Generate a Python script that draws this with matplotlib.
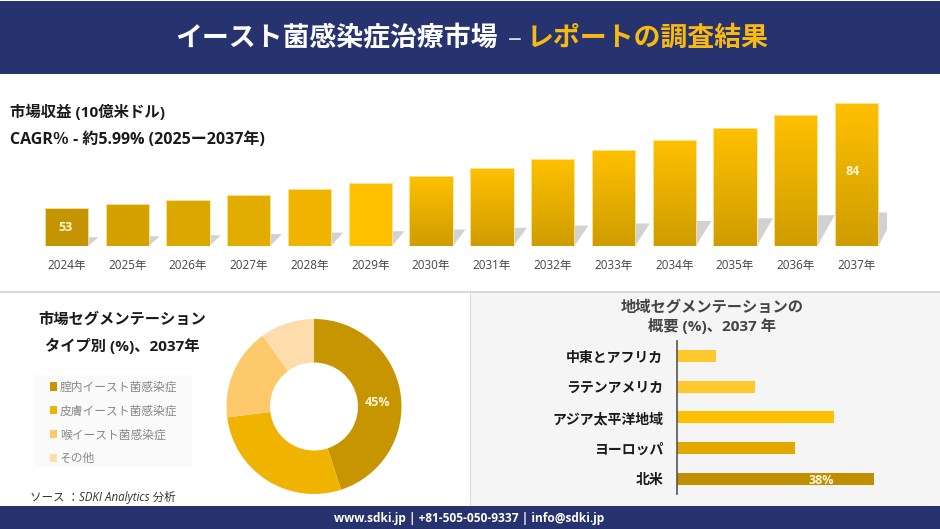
import numpy as np
import matplotlib
matplotlib.use('Agg')
import matplotlib.pyplot as plt
from matplotlib.colors import LinearSegmentedColormap
from matplotlib.patches import Polygon, Rectangle

plt.rcParams['font.family'] = ['Open Sans', 'Noto Sans CJK JP', 'DejaVu Sans']

W, H = 940, 529

years = ['2024年', '2025年', '2026年', '2027年', '2028年', '2029年', '2030年',
         '2031年', '2032年', '2033年', '2034年', '2035年', '2036年', '2037年']
revenue = [53, 54.2, 55.4, 57.0, 58.8, 60.5, 62.6, 64.8, 67.5, 70.2, 73.3, 76.7, 80.6, 84]
bar_labels = ['53', '84']
bar_top_colors = ['#c49500', '#d4a200', '#dca800', '#e2ad00', '#f0b400', '#ffc000', '#ffc000',
                  '#ffc000', '#ffc000', '#ffc000', '#ffc000', '#ffc000', '#ffc000', '#ffc000']
bar_bottom_colors = ['#c49500', '#d4a200', '#dca800', '#e2ad00', '#f0b400', '#ffc000', '#cf9d00',
                     '#cf9d00', '#cf9d00', '#cf9d00', '#cf9d00', '#cf9d00', '#cf9d00', '#cf9d00']

type_names = ['腟内イースト菌感染症', '皮膚イースト菌感染症', '喉イースト菌感染症', 'その他']
type_share = [45, 28, 17, 10]
type_colors = ['#c69500', '#efb300', '#fdc96b', '#ffdcab']

regions = ['北米', 'ヨーロッパ', 'アジア太平洋地域', 'ラテンアメリカ', '中東とアフリカ']
region_share = [38, 22.8, 30.3, 15, 7.5]
region_colors = ['#bf8f00', '#e0a800', '#ffc000', '#ffc92e', '#ffc92e']

NAVY = '#26336e'


def px_axes(fig, left, top, right, bottom, **kwargs):
    # axes placed by pixel box, y counted from the top of the image
    return fig.add_axes([left / W, 1 - bottom / H, (right - left) / W, (bottom - top) / H], **kwargs)


def px_text(fig, x, y, s, **kwargs):
    kwargs.setdefault('va', 'center')
    return fig.text(x / W, 1 - y / H, s, **kwargs)


def draw_revenue(fig):
    ax = px_axes(fig, 36, 100, 887, 246)
    ymin = 41.9
    ax.set_xlim(-0.5, 13.5)
    ax.set_ylim(ymin, 85)
    width = 0.712
    x = np.arange(len(revenue))

    # skewed shadow behind the bars
    for xi, v in zip(x, revenue):
        rise = (v - ymin) * 0.235
        skew = (8 + 0.3 * rise * 3.387) / 60.8
        shadow = Polygon([(xi - width / 2, ymin), (xi + width / 2, ymin),
                          (xi + width / 2 + skew, ymin + rise), (xi - width / 2 + skew, ymin + rise)],
                         closed=True, fc='#d2d2d2', ec='none', zorder=1)
        ax.add_patch(shadow)

    bars = ax.bar(x, revenue, width=width, color='none', edgecolor='#ffe9a8', linewidth=0.6, zorder=3)
    for i, bar in enumerate(bars):
        cmap = LinearSegmentedColormap.from_list('b', [bar_bottom_colors[i], bar_top_colors[i]])
        grad = np.linspace(1, 0, 64).reshape(-1, 1)
        im = ax.imshow(grad, cmap=cmap, vmin=0, vmax=1, aspect='auto', zorder=2,
                       extent=(bar.get_x(), bar.get_x() + width, ymin, revenue[i]))
        im.set_clip_path(bar)
    ax.set_xlim(-0.5, 13.5)
    ax.set_ylim(ymin, 85)

    ax.text(x[0] - 0.01, 47.4, bar_labels[0], color='#fff6d8', fontsize=9, fontweight='bold',
            ha='center', va='center', zorder=4)
    ax.text(x[13] - 0.06, 64, bar_labels[1], color='#fff6d8', fontsize=9, fontweight='bold',
            ha='center', va='center', zorder=4)

    ax.set_xticks(x)
    ax.set_xticklabels(years, fontsize=8.4, color='#444444')
    ax.tick_params(axis='x', length=0, pad=9)
    ax.set_yticks([])
    for s in ax.spines.values():
        s.set_visible(False)
    ax.patch.set_alpha(0)


def draw_donut(fig):
    ax = px_axes(fig, 224, 316.5, 404, 496.5)
    wedges, _ = ax.pie(type_share, colors=type_colors, startangle=90, counterclock=False,
                       radius=87.5 / 90, wedgeprops=dict(width=43.5 / 90, linewidth=0))
    ax.set_xlim(-1, 1)
    ax.set_ylim(-1, 1)
    ax.text(0.71, 0.05, '45%', color='#fff6d8', fontsize=9, fontweight='bold', ha='center', va='center')

    px_text(fig, 122, 319, '市場セグメンテーション', fontsize=11, fontweight='bold', color='#1a1a1a', ha='center')
    px_text(fig, 122, 346, 'タイプ別 (%)、2037年', fontsize=11, fontweight='bold', color='#1a1a1a', ha='center')

    fig.add_artist(Rectangle((34 / W, 1 - 467 / H), 158 / W, 92 / H, transform=fig.transFigure,
                             fc='#fafafa', ec='none', zorder=-1))
    fig.legend(wedges, type_names, loc='upper left', bbox_to_anchor=(50 / W, 1 - 380.5 / H),
               fontsize=8.5, frameon=False, labelspacing=0.92, handlelength=0.6, handleheight=0.7,
               handletextpad=0.25, borderpad=0, borderaxespad=0, labelcolor='#888888')
    px_text(fig, 30, 497, 'ソース ：SDKI Analytics 分析', fontsize=8.3, style='italic', color='#333333')


def draw_regions(fig):
    fig.add_artist(Rectangle((470 / W, 1 - 506 / H), 470 / W, 213 / H, transform=fig.transFigure,
                             fc='#f5f5f5', ec='none', zorder=-2))
    fig.add_artist(Rectangle((0, 1 - 293 / H), 1, 2 / H, transform=fig.transFigure,
                             fc='#d9d9d9', ec='none', zorder=-1))
    fig.add_artist(Rectangle((470 / W, 1 - 506 / H), 1 / W, 213 / H, transform=fig.transFigure,
                             fc='#d9d9d9', ec='none', zorder=-1))

    ax = px_axes(fig, 677, 340.7, 940, 494)
    ax.patch.set_alpha(0)
    y = np.arange(len(regions))
    ax.barh(y, region_share, height=0.39, color=region_colors)
    ax.set_xlim(0, 263 / 5.176)
    ax.set_ylim(-0.5, 4.5)
    ax.set_yticks(y)
    ax.set_yticklabels(regions, fontsize=10, fontweight='bold', color='#1a1a1a')
    ax.tick_params(axis='y', length=0, pad=10)
    ax.set_xticks([])
    for name in ['top', 'right', 'bottom']:
        ax.spines[name].set_visible(False)
    ax.spines['left'].set_color('#555555')
    ax.spines['left'].set_linewidth(1.2)
    ax.text(27.8, -0.06, '38%', color='#fff6d8', fontsize=9, fontweight='bold', ha='center', va='center')

    px_text(fig, 712.5, 307, '地域セグメンテーションの', fontsize=11, fontweight='bold', color='#444444', ha='center')
    px_text(fig, 712.5, 326, '概要 (%)、2037 年', fontsize=11, fontweight='bold', color='#444444', ha='center')


def draw_frame(fig):
    fig.add_artist(Rectangle((0, 1 - 74 / H), 1, 73 / H, transform=fig.transFigure, fc=NAVY, ec='none', zorder=-1))
    fig.add_artist(Rectangle((0, 0), 1, 23 / H, transform=fig.transFigure, fc=NAVY, ec='none', zorder=-1))
    px_text(fig, 175, 39, 'イースト菌感染症治療市場', fontsize=19.4, fontweight='bold', color='white')
    px_text(fig, 508, 39, '–', fontsize=20, color='#d8d8e0')
    px_text(fig, 527, 39, 'レポートの調査結果', fontsize=19.4, fontweight='bold', color='#f7b912')
    px_text(fig, 469, 518.5, 'www.sdki.jp | +81-505-050-9337 | info@sdki.jp', fontsize=8.6,
            fontweight='bold', color='white', ha='center')
    px_text(fig, 10, 112, '市場収益 (10億米ドル)', fontsize=11.1, fontweight='bold', color='#1a1a1a')
    px_text(fig, 10, 140, 'CAGR％ - 約5.99% (2025ー2037年)', fontsize=11.5, fontweight='bold', color='#1a1a1a')


if __name__ == '__main__':
    fig = plt.figure(figsize=(W / 100, H / 100), dpi=100, facecolor='white')
    draw_frame(fig)
    draw_revenue(fig)
    draw_donut(fig)
    draw_regions(fig)
    fig.savefig('out.png', dpi=100)
    plt.close(fig)
